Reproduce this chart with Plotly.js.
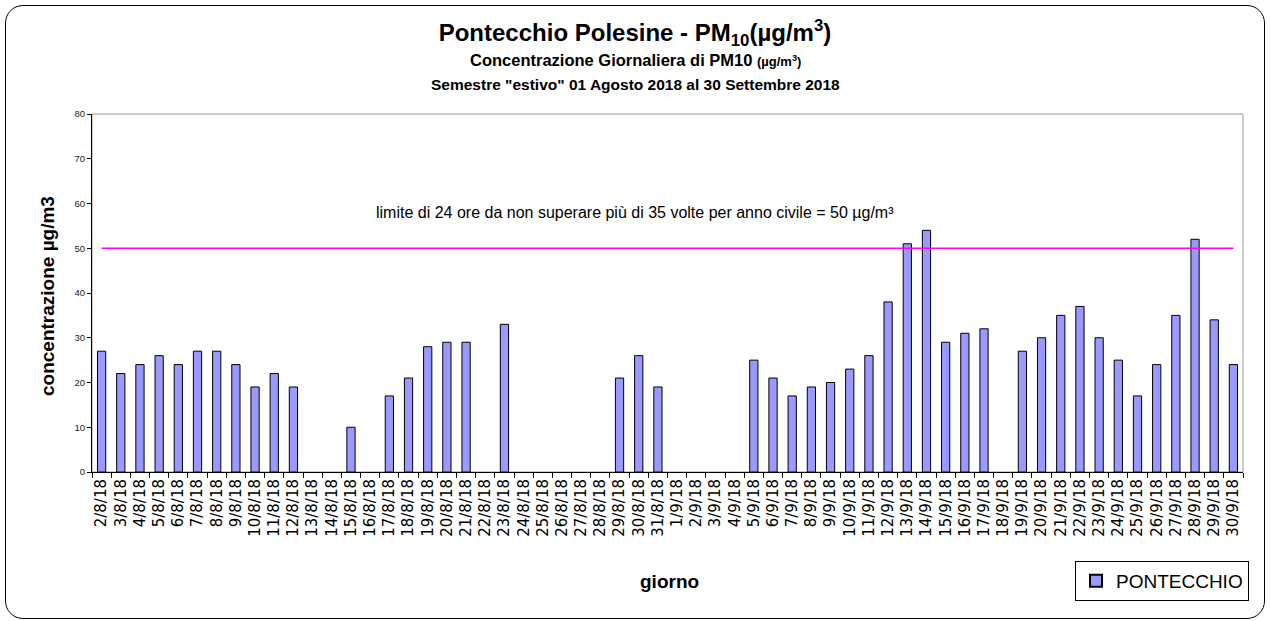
<!DOCTYPE html>
<html>
<head>
<meta charset="utf-8">
<script src="https://cdn.plot.ly/plotly-3.0.1.min.js"></script>
<style>
body{margin:0;padding:0;background:#fff;}
#wrap{position:relative;width:1270px;height:621px;}
#chart{width:1270px;height:621px;}
#frame{position:absolute;left:5px;top:5px;width:1258px;height:612px;border:1px solid #000;border-radius:18px;pointer-events:none;}
</style>
</head>
<body>
<div id="wrap"><div id="chart"></div><div id="frame"></div></div>
<script>
const days = [
 "2/8/18","3/8/18","4/8/18","5/8/18","6/8/18","7/8/18","8/8/18","9/8/18","10/8/18","11/8/18",
 "12/8/18","13/8/18","14/8/18","15/8/18","16/8/18","17/8/18","18/8/18","19/8/18","20/8/18","21/8/18",
 "22/8/18","23/8/18","24/8/18","25/8/18","26/8/18","27/8/18","28/8/18","29/8/18","30/8/18","31/8/18",
 "1/9/18","2/9/18","3/9/18","4/9/18","5/9/18","6/9/18","7/9/18","8/9/18","9/9/18","10/9/18",
 "11/9/18","12/9/18","13/9/18","14/9/18","15/9/18","16/9/18","17/9/18","18/9/18","19/9/18","20/9/18",
 "21/9/18","22/9/18","23/9/18","24/9/18","25/9/18","26/9/18","27/9/18","28/9/18","29/9/18","30/9/18"
];
const pontecchio = [
 27,22,24,26,24,27,27,24,19,22,
 19,null,null,10,null,17,21,28,29,29,
 null,33,null,null,null,null,null,21,26,19,
 null,null,null,null,25,21,17,19,20,23,
 26,38,51,54,29,31,32,null,27,30,
 35,37,30,25,17,24,35,52,34,24
];
const limitValue = 50;
const limitLabel = "limite di 24 ore da non superare più di 35 volte per anno civile = 50 µg/m³";
const seriesName = "PONTECCHIO";

const FONT = "Liberation Sans, Arial, Helvetica, sans-serif";

const traces = [
 {
  type: "bar", x: days, y: pontecchio, name: seriesName,
  marker: {color: "#9999FF", line: {color: "#000", width: 1}},
  hoverinfo: "x+y"
 },
 {
  type: "scatter", mode: "lines", x: [days[0], days[days.length-1]], y: [limitValue, limitValue],
  line: {color: "#FF00FF", width: 1.3}, showlegend: false, hoverinfo: "skip"
 }
];

const layout = {
 width: 1270, height: 621,
 margin: {l: 92, r: 27, t: 114, b: 149, pad: 0},
 paper_bgcolor: "#fff", plot_bgcolor: "#fff",
 font: {family: FONT, color: "#000"},
 bargap: 0.57,
 title: {
  text: "<b>Pontecchio Polesine - PM<sub>10</sub>(µg/m<sup>3</sup>)</b>",
  x: 0.5, xanchor: "center", xref: "container",
  y: 1 - 33/621, yanchor: "middle", yref: "container",
  font: {family: FONT, size: 24, color: "#000"}
 },
 xaxis: {
  type: "category", tickangle: -90, tickson: "boundaries",
  ticks: "outside", ticklen: 5, tickcolor: "#000", tickwidth: 1,
  showline: true, linecolor: "#000", linewidth: 1,
  showgrid: false, zeroline: false,
  tickfont: {family: "DejaVu Sans, Liberation Sans, sans-serif", size: 15, color: "#000"},
  range: [-0.5, days.length - 0.5]
 },
 yaxis: {
  range: [0, 80], dtick: 10, tick0: 0,
  ticks: "outside", ticklen: 4, tickcolor: "#000",
  showline: true, linecolor: "#000", linewidth: 1,
  showgrid: false, zeroline: false,
  tickfont: {family: FONT, size: 9.5, color: "#222"}
 },
 showlegend: true,
 legend: {
  x: (1249-92)/1151, xanchor: "right", y: (472-561)/358, yanchor: "top",
  bordercolor: "#000", borderwidth: 1, bgcolor: "#fff",
  font: {family: FONT, size: 19, color: "#000"},
  itemsizing: "constant", itemwidth: 30
 },
 shapes: [
  {type: "rect", xref: "paper", yref: "paper", x0: 0, x1: 1, y0: 0, y1: 1,
   line: {color: "#9a9a9a", width: 1}, layer: "below"}
 ],
 annotations: [
  {text: "<b>Concentrazione Giornaliera di PM10 <span style='font-size:13px'>(µg/m<sup>3</sup>)</span></b>",
   xref: "paper", yref: "paper", x: (635-92)/1151, y: (472-60)/358, xanchor: "center", yanchor: "middle",
   showarrow: false, font: {family: FONT, size: 16.5, color: "#000"}},
  {text: "<b>Semestre \"estivo\" 01 Agosto 2018 al 30 Settembre 2018</b>",
   xref: "paper", yref: "paper", x: (635-92)/1151, y: (472-85)/358, xanchor: "center", yanchor: "middle",
   showarrow: false, font: {family: FONT, size: 15.5, color: "#000"}},
  {text: limitLabel,
   xref: "paper", yref: "paper", x: (635-92)/1151, y: (472-212)/358, xanchor: "center", yanchor: "middle",
   showarrow: false, font: {family: FONT, size: 16, color: "#000"}},
  {text: "<b>concentrazione µg/m3</b>",
   xref: "paper", yref: "paper", x: (47-92)/1151, y: (472-296)/358, xanchor: "center", yanchor: "middle",
   textangle: -90, showarrow: false, font: {family: FONT, size: 19, color: "#000"}},
  {text: "<b>giorno</b>",
   xref: "paper", yref: "paper", x: (669-92)/1151, y: (472-581)/358, xanchor: "center", yanchor: "middle",
   showarrow: false, font: {family: FONT, size: 19, color: "#000"}}
 ]
};

Plotly.newPlot("chart", traces, layout, {displayModeBar: false, staticPlot: false});
</script>
</body>
</html>
